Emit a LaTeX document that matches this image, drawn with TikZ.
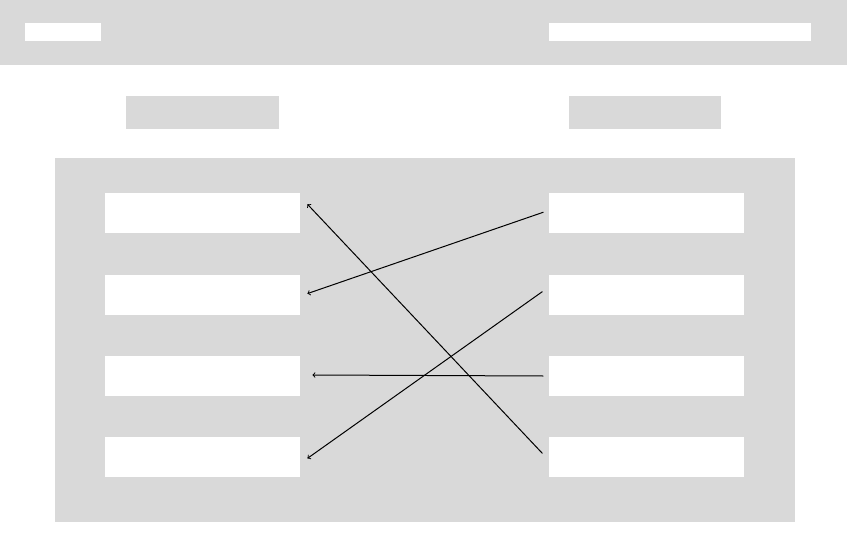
\documentclass[tikz,border=0pt]{standalone}
\usetikzlibrary{positioning}
\definecolor{panelgray}{HTML}{D9D9D9}
\begin{document}
\begin{tikzpicture}[x=1pt,y=-1pt,node distance=41pt and 249pt,
    band/.style ={fill=panelgray, inner sep=0pt, anchor=north west},
    field/.style ={fill=white, inner sep=0pt, anchor=north west, minimum height=18pt},
    slot/.style ={fill=white, inner sep=0pt, anchor=north west, minimum width=195pt, minimum height=40pt},
    link/.style ={line width=1pt, ->}]
   \useasboundingbox (0,0) rectangle (847,549);
   \node[band, minimum width=847pt, minimum height=65pt] (bar) at (0,0) {};
   \node[field, minimum width=76pt] (fa) at (25,23) {};
   \node[field, minimum width=262pt] (fb) at (549,23) {};
   \node[band, minimum width=153pt, minimum height=33pt] (hl) at (126,96) {};
   \node[band, minimum width=152pt, minimum height=33pt] (hr) at (569,96) {};
   \node[band, minimum width=740pt, minimum height=364pt] (panel) at (55,158) {};
   \node[slot] (l1) at (105,193) {};
   \node[slot, below=of l1] (l2) {};
   \node[slot, below=of l2] (l3) {};
   \node[slot, below=of l3] (l4) {};
   \node[slot, right=248pt of l1] (r1) {};
   \node[slot, right=248pt of l2] (r2) {};
   \node[slot, right=248pt of l3] (r3) {};
   \node[slot, right=248pt of l4] (r4) {};
   \draw[link] ([xshift=-5pt,yshift=1pt]r1.west) -- ([xshift=7pt,yshift=1pt]l2.east);
   \draw[link] ([xshift=-6pt,yshift=3pt]r2.west) -- ([xshift=7pt,yshift=-1pt]l4.east);
   \draw[link] ([xshift=-5pt]r3.west) -- ([xshift=12pt,yshift=1pt]l3.east);
   \draw[link] ([xshift=-6pt,yshift=4pt]r4.west) -- ([xshift=7pt,yshift=9pt]l1.east);
 \end{tikzpicture}
\end{document}
